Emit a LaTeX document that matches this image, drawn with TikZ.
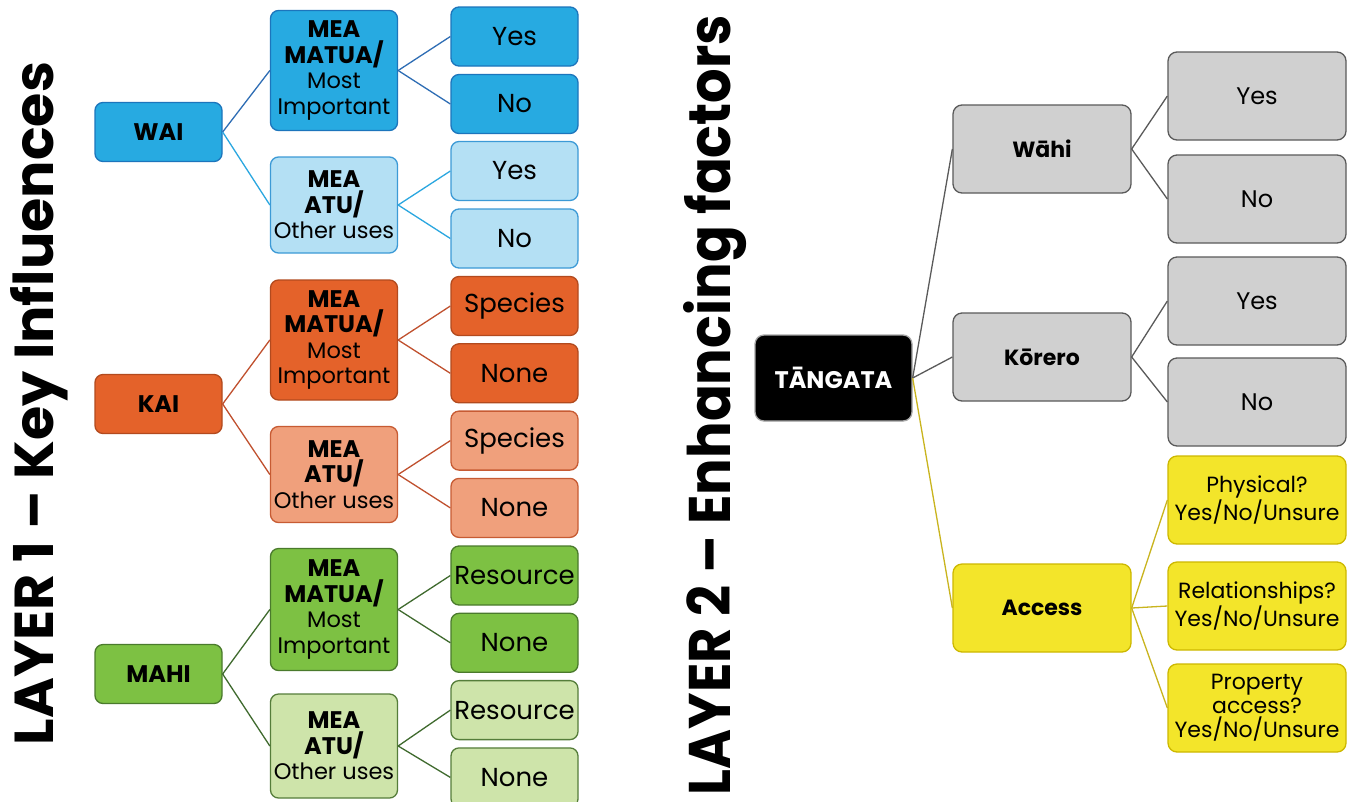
\documentclass[tikz,border=0pt]{standalone}
\usepackage{fontspec}
\setmainfont{Poppins}
\definecolor{bD}{HTML}{27AAE1}
\definecolor{bDb}{HTML}{1C75BC}
\definecolor{bL}{HTML}{B4E0F4}
\definecolor{bLb}{HTML}{3C9AD6}
\definecolor{bLineD}{HTML}{2E6DB4}
\definecolor{bLineL}{HTML}{2AA7E0}
\definecolor{oD}{HTML}{E4622A}
\definecolor{oDb}{HTML}{B24A1E}
\definecolor{oL}{HTML}{F0A07C}
\definecolor{oLb}{HTML}{C75B33}
\definecolor{oLine}{HTML}{C0502E}
\definecolor{gD}{HTML}{7DC143}
\definecolor{gDb}{HTML}{4A7A2C}
\definecolor{gL}{HTML}{CEE4AA}
\definecolor{gLb}{HTML}{557D3A}
\definecolor{gLine}{HTML}{3F6A2E}
\definecolor{grF}{HTML}{D0D0D0}
\definecolor{grB}{HTML}{5A5A5A}
\definecolor{yF}{HTML}{F3E52A}
\definecolor{yB}{HTML}{CDB800}
\definecolor{yLine}{HTML}{C9B41E}
\newcommand{\mbold}[1]{{\fontsize{24}{26}\selectfont\bfseries #1}}
\begin{document}
\begin{tikzpicture}[x=1pt,y=-1pt,
  lbox/.style={draw, rounded corners=8pt, line width=1.3pt, inner sep=0pt, align=center, minimum width=127pt},
  leafL/.style={lbox, minimum height=59pt, font=\fontsize{26}{28}\selectfont},
  midL/.style={lbox, font=\fontsize{22.5}{25.5}\selectfont},
  rootL/.style={lbox, minimum height=59pt, font=\fontsize{24}{26}\selectfont\bfseries},
  blueD/.style={fill=bD, draw=bDb},
  blueL/.style={fill=bL, draw=bLb},
  orD/.style={fill=oD, draw=oDb},
  orL/.style={fill=oL, draw=oLb},
  grD/.style={fill=gD, draw=gDb},
  grL/.style={fill=gL, draw=gLb},
  rbox/.style={draw, rounded corners=9pt, line width=1.3pt, inner sep=0pt, align=center, minimum width=178pt, minimum height=88pt},
  rleaf/.style={rbox, font=\fontsize{22}{24}\selectfont},
  ryn/.style={rbox, font=\fontsize{24}{26}\selectfont},
  rmid/.style={rbox, font=\fontsize{22}{24}\selectfont\bfseries},
  gray/.style={fill=grF, draw=grB},
  yel/.style={fill=yF, draw=yB},
  conn/.style={line width=1.3pt},
  title/.style={rotate=90, anchor=base, inner sep=0pt}
]
\useasboundingbox (0,0) rectangle (1357,801);
\clip (0,0) rectangle (1357,801);
\fill[white] (0,0) rectangle (1357,801);

% Titles
\node[title] (t1) at (53,403.5) {\resizebox{683pt}{43pt}{\bfseries LAYER 1 – Key Influences}};
\node[title] (t2) at (730,405) {\resizebox{780pt}{47pt}{\bfseries LAYER 2 – Enhancing factors}};

% ---------- WAI block ----------
\node[rootL, blueD] (wai) at (158.5,132) {WAI};
\node[midL, blueD, minimum height=120pt] (w1) at (334,70.5) {\mbold{MEA}\\\mbold{MATUA/}\\Most\\Important};
\node[midL, blueL, minimum height=96pt] (w2) at (334,205) {\mbold{MEA}\\\mbold{ATU/}\\Other uses};
\node[leafL, blueD] (w1a) at (514.5,36.5) {Yes};
\node[leafL, blueD] (w1b) at (514.5,104) {No};
\node[leafL, blueL] (w2a) at (514.5,171) {Yes};
\node[leafL, blueL] (w2b) at (514.5,238.5) {No};
\draw[conn, bLineD] (wai.east) -- (w1.west);
\draw[conn, bLineL] (wai.east) -- (w2.west);
\draw[conn, bLineD] (w1.east) -- (w1a.west);
\draw[conn, bLineD] (w1.east) -- (w1b.west);
\draw[conn, bLineL] (w2.east) -- (w2a.west);
\draw[conn, bLineL] (w2.east) -- (w2b.west);

% ---------- KAI block ----------
\node[rootL, orD] (kai) at (158.5,404) {KAI};
\node[midL, orD, minimum height=120pt] (k1) at (334,340) {\mbold{MEA}\\\mbold{MATUA/}\\Most\\Important};
\node[midL, orL, minimum height=96pt] (k2) at (334,474.5) {\mbold{MEA}\\\mbold{ATU/}\\Other uses};
\node[leafL, orD] (k1a) at (514.5,306) {Species};
\node[leafL, orD] (k1b) at (514.5,373.3) {None};
\node[leafL, orL] (k2a) at (514.5,440.6) {Species};
\node[leafL, orL] (k2b) at (514.5,507.9) {None};
\draw[conn, oLine] (kai.east) -- (k1.west);
\draw[conn, oLine] (kai.east) -- (k2.west);
\draw[conn, oLine] (k1.east) -- (k1a.west);
\draw[conn, oLine] (k1.east) -- (k1b.west);
\draw[conn, oLine] (k2.east) -- (k2a.west);
\draw[conn, oLine] (k2.east) -- (k2b.west);

% ---------- MAHI block ----------
\node[rootL, grD] (mahi) at (158.5,674) {MAHI};
\node[midL, grD, minimum height=122pt] (m1) at (334,609.5) {\mbold{MEA}\\\mbold{MATUA/}\\Most\\Important};
\node[midL, grL, minimum height=104pt] (m2) at (334,746) {\mbold{MEA}\\\mbold{ATU/}\\Other uses};
\node[leafL, grD] (m1a) at (514.5,575.5) {Resource};
\node[leafL, grD] (m1b) at (514.5,642.8) {None};
\node[leafL, grL] (m2a) at (514.5,710.1) {Resource};
\node[leafL, grL] (m2b) at (514.5,777.4) {None};
\draw[conn, gLine] (mahi.east) -- (m1.west);
\draw[conn, gLine] (mahi.east) -- (m2.west);
\draw[conn, gLine] (m1.east) -- (m1a.west);
\draw[conn, gLine] (m1.east) -- (m1b.west);
\draw[conn, gLine] (m2.east) -- (m2a.west);
\draw[conn, gLine] (m2.east) -- (m2b.west);

% ---------- Layer 2 ----------
\node[rbox, fill=black, draw=gray!70, minimum width=157pt, minimum height=86pt, text=white, font=\fontsize{24}{26}\selectfont\bfseries] (tan) at (833.5,378) {TĀNGATA};
\node[rmid, gray] (wahi) at (1042,149) {Wāhi};
\node[rmid, gray] (korero) at (1042,357) {Kōrero};
\node[rmid, yel] (access) at (1042,608) {Access};
\node[ryn, gray] (wy) at (1257,96) {Yes};
\node[ryn, gray] (wn) at (1257,199) {No};
\node[ryn, gray] (ky) at (1257,301) {Yes};
\node[ryn, gray] (kn) at (1257,402) {No};
\node[rleaf, yel] (phys) at (1257,500) {Physical?\\Yes/No/Unsure};
\node[rleaf, yel] (rel) at (1257,606) {Relationships?\\Yes/No/Unsure};
\node[rleaf, yel] (prop) at (1257,708) {Property\\access?\\Yes/No/Unsure};
\draw[conn, grB] (tan.east) -- (wahi.west);
\draw[conn, grB] (tan.east) -- (korero.west);
\draw[conn, yLine] (tan.east) -- (access.west);
\draw[conn, grB] (wahi.east) -- (wy.west);
\draw[conn, grB] (wahi.east) -- (wn.west);
\draw[conn, grB] (korero.east) -- (ky.west);
\draw[conn, grB] (korero.east) -- (kn.west);
\draw[conn, yLine] (access.east) -- (phys.west);
\draw[conn, yLine] (access.east) -- (rel.west);
\draw[conn, yLine] (access.east) -- (prop.west);
\end{tikzpicture}
\end{document}
